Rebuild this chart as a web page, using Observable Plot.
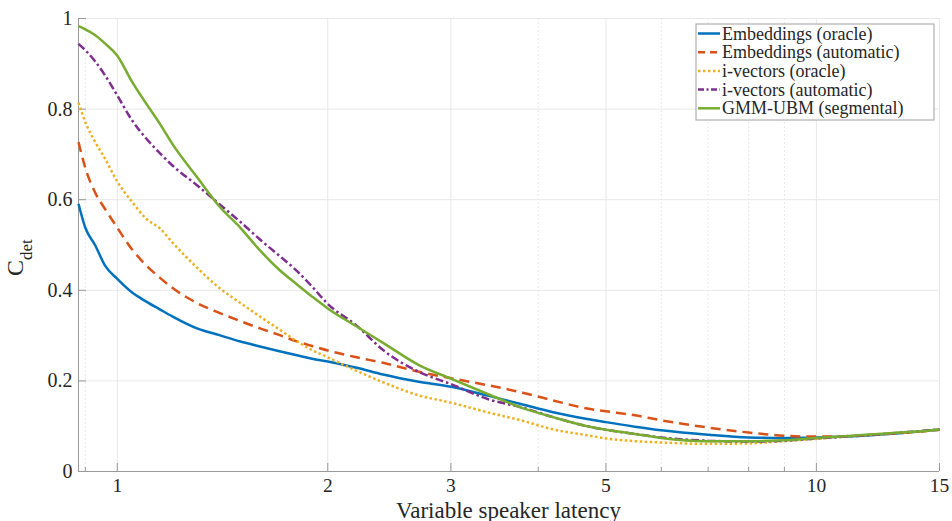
<!DOCTYPE html>
<html>
<head>
<meta charset="utf-8">
<script src="https://cdn.jsdelivr.net/npm/d3@7"></script>
<script src="https://cdn.jsdelivr.net/npm/@observablehq/plot@0.6"></script>
<style>
  html, body { margin: 0; padding: 0; background: #fff; }
  #chart { position: relative; width: 952px; height: 521px; }
</style>
</head>
<body>
<div id="chart"></div>
<script>
// ---- data ----
const latency = [0.88, 0.9, 0.93, 0.96, 1.0, 1.05, 1.1, 1.15, 1.2, 1.3, 1.4, 1.5, 1.6, 1.7, 1.8, 1.9, 2.0, 2.2, 2.4, 2.7, 3.0, 3.4, 3.8, 4.2, 4.7, 5.0, 5.5, 6.0, 7.0, 8.0, 9.0, 10, 11, 12, 13.5, 15];

const embeddingsOracle = [0.591, 0.538, 0.499, 0.455, 0.425, 0.395, 0.375, 0.358, 0.342, 0.316, 0.301, 0.287, 0.276, 0.266, 0.257, 0.249, 0.243, 0.229, 0.214, 0.198, 0.187, 0.167, 0.148, 0.131, 0.116, 0.109, 0.099, 0.091, 0.081, 0.075, 0.074, 0.075, 0.077, 0.080, 0.086, 0.092];
const embeddingsAutomatic = [0.727, 0.670, 0.615, 0.580, 0.538, 0.490, 0.455, 0.428, 0.405, 0.372, 0.350, 0.332, 0.316, 0.302, 0.288, 0.277, 0.267, 0.252, 0.240, 0.220, 0.206, 0.190, 0.174, 0.157, 0.139, 0.133, 0.124, 0.113, 0.097, 0.086, 0.079, 0.077, 0.078, 0.081, 0.086, 0.092];
const ivectorsOracle = [0.814, 0.771, 0.727, 0.691, 0.640, 0.595, 0.558, 0.537, 0.505, 0.450, 0.405, 0.372, 0.342, 0.315, 0.289, 0.268, 0.252, 0.222, 0.197, 0.168, 0.152, 0.130, 0.112, 0.093, 0.080, 0.073, 0.067, 0.064, 0.061, 0.062, 0.067, 0.072, 0.077, 0.081, 0.086, 0.092];
const ivectorsAutomatic = [0.944, 0.930, 0.905, 0.875, 0.830, 0.775, 0.735, 0.703, 0.675, 0.632, 0.590, 0.551, 0.512, 0.478, 0.445, 0.408, 0.370, 0.322, 0.268, 0.220, 0.193, 0.159, 0.141, 0.120, 0.100, 0.092, 0.083, 0.075, 0.068, 0.066, 0.068, 0.073, 0.077, 0.081, 0.087, 0.093];
const gmmUbm = [0.983, 0.976, 0.963, 0.945, 0.918, 0.860, 0.812, 0.768, 0.722, 0.650, 0.585, 0.538, 0.488, 0.447, 0.415, 0.386, 0.360, 0.320, 0.284, 0.235, 0.205, 0.170, 0.140, 0.120, 0.100, 0.092, 0.083, 0.074, 0.067, 0.067, 0.069, 0.074, 0.078, 0.082, 0.087, 0.093];

const seriesNames = ["Embeddings (oracle)", "Embeddings (automatic)", "i-vectors (oracle)", "i-vectors (automatic)", "GMM-UBM (segmental)"];
const seriesValues = [embeddingsOracle, embeddingsAutomatic, ivectorsOracle, ivectorsAutomatic, gmmUbm];
const seriesColors = ["#0072BD", "#D95319", "#EDB120", "#7E2F8E", "#77AC30"];
const seriesDash = [null, "10,6", "2.5,2.5", "8,3,2.5,3", null];
const legendDash = [null, "7,5", "2.5,2.5", "6,2.5,2,2.5", null];

const xMajorTicks = [1, 2, 3, 5, 10, 15];
const xMinorTicks = [0.9, 4, 6, 7, 8, 9];
const yTicks = [0, 0.2, 0.4, 0.6, 0.8, 1];
const xDomain = [0.88, 15];

// ---- layout ----
const W = 952, H = 521;
const mL = 78, mR = 13, mT = 18, mB = 50;
const plotH = H - mT - mB, plotW = W - mL - mR;
const axisColor = "#9a9a9a";
const gridColor = "#e8e8e8";
const font = "'Liberation Serif', 'Times New Roman', serif";

const lineMarks = seriesNames.map((name, i) =>
  Plot.line(latency.map((x, j) => ({x, y: seriesValues[i][j], name})), {
    x: "x", y: "y",
    stroke: seriesColors[i],
    strokeWidth: 2.5,
    strokeDasharray: seriesDash[i] || undefined,
    strokeLinecap: "butt",
    strokeLinejoin: "round",
    curve: "monotone-x"
  })
);

const chart = Plot.plot({
  width: W, height: H,
  marginLeft: mL, marginRight: mR, marginTop: mT, marginBottom: mB,
  x: {type: "log", domain: xDomain},
  y: {domain: [0, 1]},
  style: {fontFamily: font, fontSize: "20px", color: "#262626", background: "#fff"},
  marks: [
    Plot.ruleY(yTicks.slice(1), {stroke: gridColor, strokeWidth: 1}),
    Plot.ruleX(xMajorTicks, {stroke: gridColor, strokeWidth: 1}),
    Plot.ruleX(xMinorTicks, {stroke: gridColor, strokeWidth: 1, strokeDasharray: "2,2"}),
    Plot.ruleY([0], {stroke: axisColor, strokeWidth: 1}),
    Plot.ruleX([xDomain[0]], {stroke: axisColor, strokeWidth: 1}),
    Plot.tickX(xMajorTicks, {x: d => d, insetTop: plotH - 8, stroke: axisColor}),
    Plot.tickX(xMinorTicks, {x: d => d, insetTop: plotH - 4, stroke: axisColor}),
    Plot.tickY(yTicks, {y: d => d, insetRight: plotW - 8, stroke: axisColor}),
    Plot.axisX({ticks: xMajorTicks, tickSize: 0, tickPadding: 7, tickFormat: d => String(d), label: null, fontSize: 19.5}),
    Plot.axisY({ticks: yTicks, tickSize: 0, tickPadding: 6, tickFormat: d => String(d), label: null, fontSize: 20}),
    ...lineMarks
  ]
});

document.getElementById("chart").appendChild(chart);

const svg = d3.select(chart);
// x axis title
svg.append("text")
  .attr("x", (mL + W - mR) / 2).attr("y", 517.5)
  .attr("text-anchor", "middle")
  .attr("font-family", font).attr("font-size", 23).attr("fill", "#262626")
  .text("Variable speaker latency");

// y axis title C_det
const yl = svg.append("text")
  .attr("transform", "translate(23,276) rotate(-90)")
  .attr("text-anchor", "start")
  .attr("font-family", font).attr("fill", "#262626");
yl.append("tspan").attr("font-size", 24).text("C");
yl.append("tspan").attr("font-size", 17).attr("dy", 9).text("det");

// legend
const lg = svg.append("g");
const lx = 696, ly = 24, lw = 238, lh = 96;
lg.append("rect").attr("x", lx).attr("y", ly).attr("width", lw).attr("height", lh)
  .attr("fill", "#fff").attr("stroke", "#a0a0a0").attr("stroke-width", 1);
seriesNames.forEach((name, i) => {
  const cy = 33.5 + i * 18.7;
  lg.append("line").attr("x1", lx + 2).attr("x2", lx + 24).attr("y1", cy).attr("y2", cy)
    .attr("stroke", seriesColors[i]).attr("stroke-width", 2.5)
    .attr("stroke-linecap", "butt")
    .attr("stroke-dasharray", legendDash[i]);
  lg.append("text").attr("x", lx + 26).attr("y", cy + 6)
    .attr("text-anchor", "start")
    .attr("font-family", font).attr("font-size", 18).attr("fill", "#262626")
    .text(name);
});
</script>
</body>
</html>
